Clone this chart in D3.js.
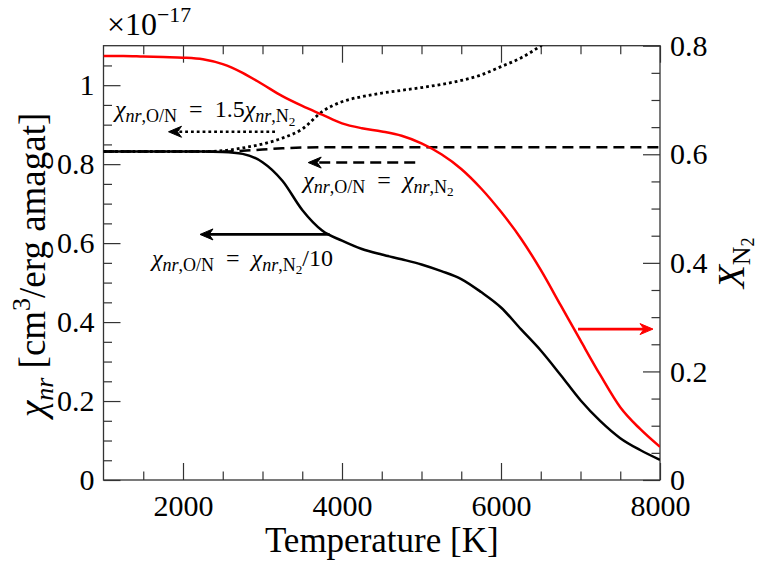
<!DOCTYPE html>
<html>
<head>
<meta charset="utf-8">
<script src="https://cdn.jsdelivr.net/npm/d3@7"></script>
<style>
  body { margin: 0; background: #fff; }
  text { font-family: "Liberation Serif", "DejaVu Serif", serif; white-space: pre; }
</style>
</head>
<body>
<div id="chart"></div>
<script>

// temperature grid [K]
var temps = [1000, 1250, 1500, 1750, 2000, 2250, 2500, 2750, 3000, 3250, 3500, 3750, 4000, 4250,
             4500, 4750, 5000, 5250, 5500, 5750, 6000, 6250, 6500, 6750, 7000, 7250, 7500, 7750, 8000];

// chi_nr [1e-17 cm3/erg amagat], chi_O/N = chi_N2/10
var chiTenth = [0.832, 0.832, 0.832, 0.832, 0.832, 0.832, 0.831, 0.826, 0.805, 0.758, 0.684, 0.632, 0.606, 0.585,
                0.571, 0.559, 0.546, 0.529, 0.509, 0.476, 0.437, 0.382, 0.328, 0.266, 0.202, 0.149, 0.106, 0.076, 0.051];

// chi_O/N = chi_N2
var chiEqual = [0.832, 0.832, 0.832, 0.832, 0.832, 0.832, 0.832, 0.834, 0.837, 0.840, 0.842, 0.843, 0.843, 0.843,
                0.843, 0.843, 0.843, 0.843, 0.843, 0.843, 0.843, 0.843, 0.843, 0.843, 0.843, 0.843, 0.843, 0.843, 0.843];

// chi_O/N = 1.5 chi_N2 (leaves the frame at the top)
var chiHalf = [0.832, 0.832, 0.832, 0.832, 0.832, 0.832, 0.834, 0.841, 0.851, 0.866, 0.889, 0.933, 0.958, 0.971,
               0.980, 0.987, 0.994, 1.002, 1.012, 1.026, 1.047, 1.069, 1.100, 1.140, null, null, null, null, null];

// mole fraction of N2 (right axis)
var xN2 = [0.781, 0.781, 0.780, 0.779, 0.778, 0.775, 0.766, 0.750, 0.729, 0.707, 0.689, 0.673, 0.657, 0.648,
           0.642, 0.634, 0.620, 0.600, 0.573, 0.537, 0.494, 0.445, 0.387, 0.322, 0.257, 0.193, 0.134, 0.094, 0.061];

// tick labels
var xTicks = [2000, 4000, 6000, 8000];
var leftTicks = [0, 0.2, 0.4, 0.6, 0.8, 1];
var rightTicks = [0, 0.2, 0.4, 0.6, 0.8];

// annotation arrows (data coords)
var arrowFrom = [[3157, 0.882], [4921, 0.804], [3843, 0.622], [6969, 0.278]];
var arrowTo   = [[1818, 0.882], [3575, 0.804], [2214, 0.622], [7912, 0.278]];
var arrowDash = ["2.8,3", "11,6", null, null];
var arrowColor = ["#000", "#000", "#000", "#ff0000"];
var arrowAxis = ["left", "left", "left", "right"];

// annotation texts (data coords of left baseline)
var labelPos = [[1145, 0.919], [3513, 0.740], [1610, 0.543]];
var labelTail = [["\u2002=\u20021.5", "χ"], ["\u2002=\u2002", "χ"], ["\u2002=\u2002", "χ"]];
var labelEnd = ["", "", "/10"];

var W = 757, H = 562;
var margin = {top: 45.7, right: 97, bottom: 82, left: 103.5},
    width = W - margin.left - margin.right,
    height = H - margin.top - margin.bottom;

var svg = d3.select("#chart").append("svg")
    .attr("width", W)
    .attr("height", H);

var g = svg.append("g")
    .attr("transform", "translate(" + margin.left + "," + margin.top + ")");

var x = d3.scaleLinear().domain([1000, 8000]).range([0, width]);
var yL = d3.scaleLinear().domain([0, 1.1]).range([height, 0]);
var yR = d3.scaleLinear().domain([0, 0.8]).range([height, 0]);

// minor ticks every 500 K / 0.05
var xMinor = d3.range(1500, 8000, 500).filter(function(d) { return d % 2000 !== 0; });
var leftMinor = d3.range(1, 22).map(function(i) { return i * 0.05; }).filter(function(d, i) { return (i + 1) % 4 !== 0; });
var rightMinor = d3.range(1, 16).map(function(i) { return i * 0.05; }).filter(function(d, i) { return (i + 1) % 4 !== 0; });

var MAJ = 17, MIN = 8.5;

function addAxis(axis, tr) {
    var a = g.append("g")
        .attr("transform", tr)
        .call(axis)
        .attr("font-size", 30)
        .attr("font-family", null);
    a.select(".domain").remove();
    a.selectAll("line").attr("stroke", "#333").attr("stroke-width", 1.2);
    a.selectAll("text").attr("fill", "#000");
    return a;
}

addAxis(d3.axisBottom(x).tickValues(xTicks).tickSize(-MAJ).tickPadding(15).tickFormat(d3.format("d")), "translate(0," + height + ")");
addAxis(d3.axisBottom(x).tickValues(xMinor).tickSize(-MIN).tickFormat(""), "translate(0," + height + ")");
addAxis(d3.axisTop(x).tickValues(xTicks).tickSize(-MAJ).tickFormat(""), "translate(0,0)");
addAxis(d3.axisTop(x).tickValues(xMinor).tickSize(-MIN).tickFormat(""), "translate(0,0)");
addAxis(d3.axisLeft(yL).tickValues(leftTicks).tickSize(-MAJ).tickPadding(9).tickFormat(d3.format("")), "translate(0,0)");
addAxis(d3.axisLeft(yL).tickValues(leftMinor).tickSize(-MIN).tickFormat(""), "translate(0,0)");
addAxis(d3.axisRight(yR).tickValues(rightTicks).tickSize(-MAJ).tickPadding(10).tickFormat(d3.format("")), "translate(" + width + ",0)");
addAxis(d3.axisRight(yR).tickValues(rightMinor).tickSize(-MIN).tickFormat(""), "translate(" + width + ",0)");

// frame
g.append("rect")
    .attr("width", width)
    .attr("height", height)
    .attr("fill", "none")
    .attr("stroke", "#333")
    .attr("stroke-width", 1.3);

g.append("clipPath").attr("id", "clip")
    .append("rect").attr("width", width).attr("height", height);

function pairs(arr) {
    return temps.map(function(t, i) { return [t, arr[i]]; });
}

function drawLine(arr, yScale, color, dash, lw) {
    var line = d3.line()
        .defined(function(d) { return d[1] != null; })
        .x(function(d) { return x(d[0]); })
        .y(function(d) { return yScale(d[1]); })
        .curve(d3.curveMonotoneX);
    g.append("path")
        .attr("clip-path", "url(#clip)")
        .attr("d", line(pairs(arr)))
        .attr("fill", "none")
        .attr("stroke", color)
        .attr("stroke-width", lw)
        .attr("stroke-dasharray", dash);
}

drawLine(chiTenth, yL, "#000", null, 2.5);
drawLine(chiEqual, yL, "#000", "11,6", 2.5);
drawLine(chiHalf, yL, "#000", "2.8,3", 2.8);
drawLine(xN2, yR, "#ff0000", null, 2.5);

// arrows
arrowFrom.forEach(function(f, i) {
    var ys = arrowAxis[i] === "right" ? yR : yL;
    var x1 = x(f[0]), y1 = ys(f[1]),
        x2 = x(arrowTo[i][0]), y2 = ys(arrowTo[i][1]);
    var dir = Math.sign(x1 - x2);
    var headLen = 13, half = 5.5, notch = 9;
    g.append("line")
        .attr("x1", x1).attr("y1", y1)
        .attr("x2", x2 + dir * notch).attr("y2", y2)
        .attr("stroke", arrowColor[i])
        .attr("stroke-width", 2.6)
        .attr("stroke-dasharray", arrowDash[i]);
    g.append("path")
        .attr("d", "M" + x2 + "," + y2 +
                   "L" + (x2 + dir * headLen) + "," + (y2 - half) +
                   "L" + (x2 + dir * notch) + "," + y2 +
                   "L" + (x2 + dir * headLen) + "," + (y2 + half) + "Z")
        .attr("fill", arrowColor[i])
        .attr("stroke", arrowColor[i])
        .attr("stroke-width", 1)
        .attr("stroke-linejoin", "miter");
});

// math-ish text built from tspans; o = baseline offset (em, down), s = scale
function mathText(parent, parts, fs) {
    var t = parent.append("text").attr("font-size", fs).attr("fill", "#000");
    var cur = 0;
    parts.forEach(function(p) {
        var off = (p.o || 0) * fs;
        t.append("tspan")
            .attr("dy", off - cur)
            .attr("font-size", (p.s || 1) * fs)
            .attr("font-style", p.i ? "italic" : "normal")
            .text(p.t);
        cur = off;
    });
    return t;
}

labelPos.forEach(function(p, i) {
    var parts = [
        {t: "χ", i: 1}, {t: "nr", i: 1, s: 0.75, o: 0.22}, {t: ",O/N", s: 0.75, o: 0.22},
        {t: labelTail[i][0]}, {t: labelTail[i][1], i: 1},
        {t: "nr", i: 1, s: 0.75, o: 0.22}, {t: ",N", s: 0.75, o: 0.22}, {t: "2", s: 0.55, o: 0.36}
    ];
    if (labelEnd[i]) parts.push({t: labelEnd[i]});
    mathText(g, parts, 24)
        .attr("x", x(p[0]))
        .attr("y", yL(p[1]));
});

// offset text
mathText(svg, [{t: "×10"}, {t: "−17", s: 0.68, o: -0.42}], 32)
    .attr("x", 107).attr("y", 35);

// x title
g.append("text")
    .attr("x", width / 2)
    .attr("y", 506)
    .attr("text-anchor", "middle")
    .attr("font-size", 35)
    .text("Temperature [K]");

// left title
var lt = mathText(svg, [
    {t: "χ", i: 1}, {t: "nr", i: 1, s: 0.7, o: 0.22}, {t: " [cm"}, {t: "3", s: 0.7, o: -0.4},
    {t: "/erg amagat]"}
], 37);
lt.attr("text-anchor", "middle")
  .attr("transform", "translate(45," + (margin.top + height / 2 + 2) + ") rotate(-90)");

// right title
var rt = mathText(svg, [
    {t: "X", i: 1}, {t: "N", s: 0.68, o: 0.16}, {t: "2", s: 0.48, o: 0.26}
], 38);
rt.attr("text-anchor", "middle")
  .attr("transform", "translate(744," + (margin.top + height / 2) + ") rotate(-90)");

</script>
</body>
</html>
